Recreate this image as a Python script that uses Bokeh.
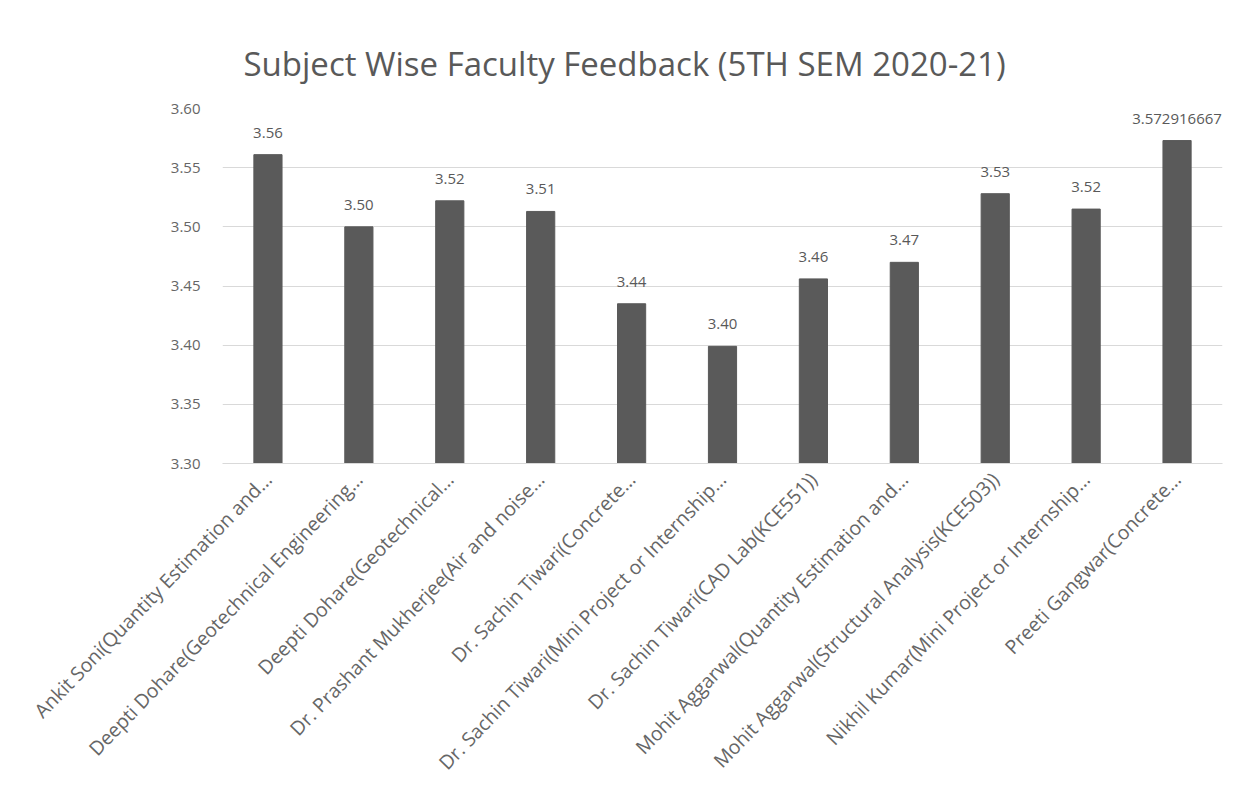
import math
from bokeh.plotting import figure
from bokeh.models import ColumnDataSource, LabelSet, FixedTicker, NumeralTickFormatter, Title, Range1d
from bokeh.core.properties import value
from bokeh.embed import file_html
from bokeh.resources import INLINE

categories = [
    "Ankit Soni(Quantity Estimation and…",
    "Deepti Dohare(Geotechnical Engineering…",
    "Deepti Dohare(Geotechnical…",
    "Dr. Prashant Mukherjee(Air and noise…",
    "Dr. Sachin Tiwari(Concrete…",
    "Dr. Sachin Tiwari(Mini Project or Internship…",
    "Dr. Sachin Tiwari(CAD Lab(KCE551))",
    "Mohit Aggarwal(Quantity Estimation and…",
    "Mohit Aggarwal(Structural Analysis(KCE503))",
    "Nikhil Kumar(Mini Project or Internship…",
    "Preeti Gangwar(Concrete…",
]
scores = [3.561, 3.500, 3.522, 3.513, 3.435, 3.399, 3.456, 3.470, 3.528, 3.515, 3.572916667]
score_labels = ["3.56", "3.50", "3.52", "3.51", "3.44", "3.40", "3.46", "3.47", "3.53", "3.52", "3.572916667"]
y_ticks = [3.30, 3.35, 3.40, 3.45, 3.50, 3.55, 3.60]

FONT = "Open Sans"
GREY = "#595959"
LIGHT_GREY = "#666666"

src = ColumnDataSource(dict(cat=categories, val=scores, lab=score_labels))

p = figure(x_range=categories, y_range=Range1d(3.30, 3.60),
           width=1238, height=800, output_backend="svg", toolbar_location=None,
           min_border_left=222, min_border_right=16, min_border_top=108, min_border_bottom=337)

p.add_layout(Title(text="Subject Wise Faculty Feedback (5TH SEM 2020-21)", align="left",
                   text_font=FONT, text_font_size="33px", text_font_style="normal",
                   text_color=GREY, offset=21, standoff=45), "above")

p.vbar(x="cat", top="val", bottom=3.30, width=0.31, source=src,
       fill_color="#5a5a5a", line_color="#5a5a5a")

labels = LabelSet(x="cat", y="val", text="lab", source=src, text_align="center",
                  text_baseline="bottom", y_offset=17, text_font_size="15px",
                  text_color=GREY, text_font=value(FONT))
p.add_layout(labels)

p.yaxis.ticker = FixedTicker(ticks=y_ticks)
p.yaxis.formatter = NumeralTickFormatter(format="0.00")
p.yaxis.axis_line_color = None
p.yaxis.major_tick_line_color = None
p.yaxis.minor_tick_line_color = None
p.yaxis.major_label_text_font = FONT
p.yaxis.major_label_text_font_size = "15px"
p.yaxis.major_label_text_color = LIGHT_GREY
p.yaxis.major_label_standoff = 16

p.xaxis.axis_line_color = "#d9d9d9"
p.xaxis.major_tick_line_color = None
p.xaxis.minor_tick_line_color = None
p.xaxis.major_label_orientation = math.radians(46)
p.xaxis.major_label_text_font = FONT
p.xaxis.major_label_text_font_size = "19.5px"
p.xaxis.major_label_text_color = LIGHT_GREY
p.xaxis.major_label_standoff = 6

p.xgrid.grid_line_color = None
p.ygrid.grid_line_color = "#d9d9d9"
p.ygrid.ticker = FixedTicker(ticks=y_ticks)
p.outline_line_color = None
p.x_range.range_padding = 0.0

open("out.html", "w").write(file_html(p, INLINE))
